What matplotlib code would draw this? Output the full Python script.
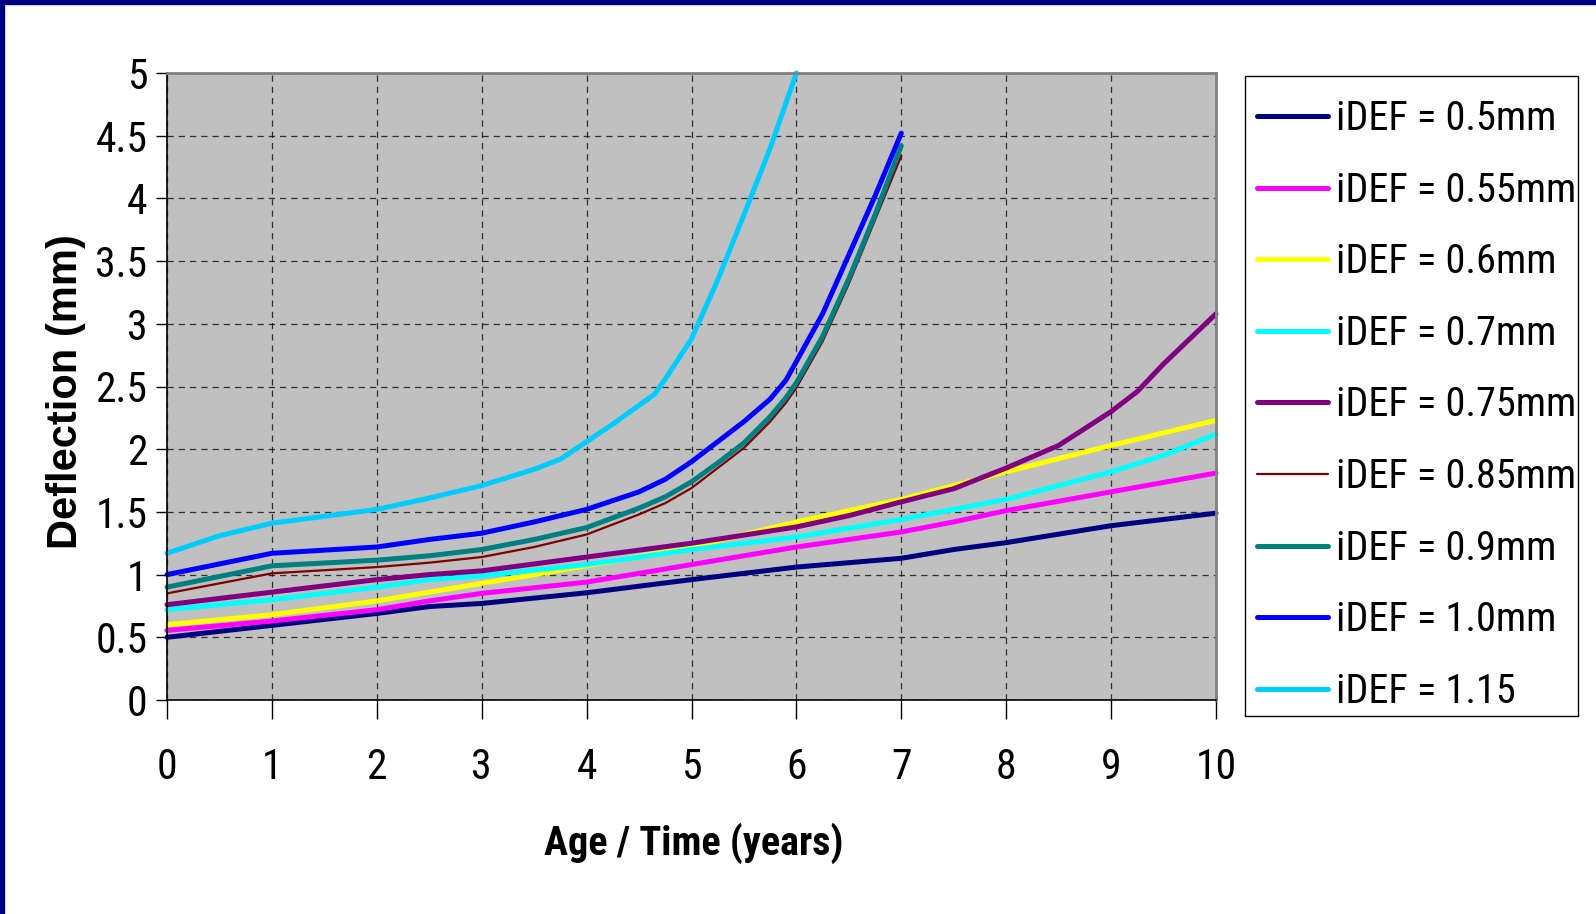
import matplotlib
matplotlib.use("Agg")
import matplotlib.pyplot as plt
import matplotlib.patches as mpatches
from matplotlib import font_manager

# ── data ──────────────────────────────────────────────────────────────────────
x_050 = [0, 1, 2, 2.5, 3, 4, 5, 6, 7, 7.5, 8, 9, 10]
y_050 = [0.50, 0.595, 0.69, 0.745, 0.77, 0.855, 0.96, 1.06, 1.13, 1.20, 1.255, 1.39, 1.49]

x_055 = [0, 1, 2, 2.5, 3, 4, 5, 6, 7, 7.5, 8, 9, 10]
y_055 = [0.555, 0.63, 0.72, 0.79, 0.85, 0.94, 1.08, 1.22, 1.34, 1.42, 1.51, 1.66, 1.81]

x_060 = [0, 1, 2, 2.5, 3, 4, 5, 6, 7, 8, 9, 10]
y_060 = [0.60, 0.68, 0.79, 0.86, 0.93, 1.07, 1.22, 1.42, 1.60, 1.82, 2.03, 2.23]

x_070 = [0, 1, 2, 2.5, 3, 4, 5, 6, 7, 7.5, 8, 8.5, 9, 9.5, 10]
y_070 = [0.72, 0.80, 0.90, 0.96, 0.99, 1.08, 1.20, 1.30, 1.44, 1.52, 1.60, 1.71, 1.82, 1.95, 2.12]

x_075 = [0, 1, 2, 2.5, 3, 4, 5, 6, 6.5, 7, 7.5, 8, 8.5, 9, 9.25, 9.5, 9.75, 10]
y_075 = [0.76, 0.86, 0.96, 1.00, 1.03, 1.14, 1.25, 1.38, 1.47, 1.58, 1.685, 1.85, 2.03, 2.30, 2.46, 2.68, 2.88, 3.08]

x_fast = [0, 1, 2, 2.5, 3, 3.5, 4, 4.5, 4.75, 5, 5.25, 5.5, 5.75, 5.9, 6, 6.25, 6.5, 6.75, 7]
y_085 = [0.85, 1.01, 1.06, 1.095, 1.14, 1.22, 1.32, 1.48, 1.57, 1.69, 1.85, 2.01, 2.22, 2.37, 2.49, 2.86, 3.32, 3.83, 4.34]
y_090 = [0.90, 1.07, 1.115, 1.15, 1.20, 1.28, 1.375, 1.53, 1.62, 1.74, 1.89, 2.05, 2.26, 2.41, 2.53, 2.90, 3.36, 3.87, 4.42]
y_100 = [1.00, 1.17, 1.22, 1.28, 1.33, 1.42, 1.52, 1.66, 1.76, 1.90, 2.06, 2.22, 2.40, 2.55, 2.70, 3.08, 3.55, 4.02, 4.52]

x_115 = [0, 0.5, 1, 2, 2.5, 3, 3.5, 3.75, 4, 4.25, 4.5, 4.65, 4.75, 5, 5.25, 5.5, 5.75, 6]
y_115 = [1.17, 1.31, 1.41, 1.52, 1.61, 1.71, 1.84, 1.92, 2.06, 2.20, 2.35, 2.44, 2.56, 2.88, 3.35, 3.87, 4.40, 5.00]

SERIES = [
    ("iDEF = 0.5mm",  x_050,  y_050, "#000080", 3.6),
    ("iDEF = 0.55mm", x_055,  y_055, "#FF00FF", 3.6),
    ("iDEF = 0.6mm",  x_060,  y_060, "#FFFF00", 3.6),
    ("iDEF = 0.7mm",  x_070,  y_070, "#00FFFF", 3.6),
    ("iDEF = 0.75mm", x_075,  y_075, "#800080", 3.6),
    ("iDEF = 0.85mm", x_fast, y_085, "#800000", 1.6),
    ("iDEF = 0.9mm",  x_fast, y_090, "#008080", 3.6),
    ("iDEF = 1.0mm",  x_fast, y_100, "#0000FF", 3.6),
    ("iDEF = 1.15",   x_115,  y_115, "#00CCFF", 3.6),
]

# ── fonts: narrow face like the original, with fallbacks ──────────────────────
names = {f.name for f in font_manager.fontManager.ttflist}
NARROW = next((n for n in ("Liberation Sans Narrow", "Roboto Condensed", "Archivo Narrow")
               if n in names), "Liberation Sans")
plt.rcParams["font.family"] = [NARROW, "DejaVu Sans"]

# ── figure ────────────────────────────────────────────────────────────────────
W, H = 1596, 914
fig = plt.figure(figsize=(W / 100, H / 100), dpi=100)
ax = fig.add_axes([167 / W, 1 - 700 / H, (1216 - 167) / W, (700 - 73) / H])
ax.set_facecolor("#C0C0C0")

for label, xs, ys, col, lw in SERIES:
    ax.plot(xs, ys, color=col, linewidth=lw, label=label,
            solid_capstyle="round", solid_joinstyle="round", clip_on=False)

ax.set_xlim(0, 10)
ax.set_ylim(0, 5)
ax.set_xticks(range(0, 11))
ax.set_yticks([0, 0.5, 1, 1.5, 2, 2.5, 3, 3.5, 4, 4.5, 5])
ax.set_yticklabels(["0", "0.5", "1", "1.5", "2", "2.5", "3", "3.5", "4", "4.5", "5"])
ax.grid(True, color="black", linestyle=(0, (5, 4)), linewidth=0.9, alpha=0.75)
ax.set_axisbelow(True)

ax.tick_params(axis="both", labelsize=30, direction="out", color="black", width=1.0)
ax.tick_params(axis="x", length=14, pad=20)
ax.tick_params(axis="y", length=8, pad=6)

for side in ("top", "right"):
    ax.spines[side].set_color("#808080")
    ax.spines[side].set_linewidth(2)
for side in ("left", "bottom"):
    ax.spines[side].set_color("black")
    ax.spines[side].set_linewidth(1.2)

fig.text(694 / W, 1 - 843 / H, "Age / Time (years)", ha="center", va="center",
         fontsize=29, fontweight="bold")
fig.text(66 / W, 1 - 392 / H, "Deflection (mm)", ha="center", va="center",
         rotation=90, fontsize=30, fontweight="bold",
         family=["Liberation Sans", "DejaVu Sans"])

# legend: content without frame, frame drawn as its own box
leg = fig.legend(loc="upper left", bbox_to_anchor=(1257 / W, 1 - 99 / H),
                 fontsize=29, frameon=False,
                 handlelength=1.76, handletextpad=0.2, labelspacing=0.81,
                 borderpad=0, borderaxespad=0)
fig.patches.append(mpatches.Rectangle((1245 / W, 1 - 716 / H), (1578 - 1245) / W, (716 - 76) / H,
                                      transform=fig.transFigure, facecolor="none",
                                      edgecolor="black", linewidth=1.0))

# navy frame strips on the left and top edge
fig.patches.append(mpatches.Rectangle((0, 0), 4 / W, 1, transform=fig.transFigure,
                                      color="#000080", zorder=10))
fig.patches.append(mpatches.Rectangle((0, 1 - 4 / H), 1, 4 / H, transform=fig.transFigure,
                                      color="#000080", zorder=10))

fig.savefig("out.png", dpi=100)
